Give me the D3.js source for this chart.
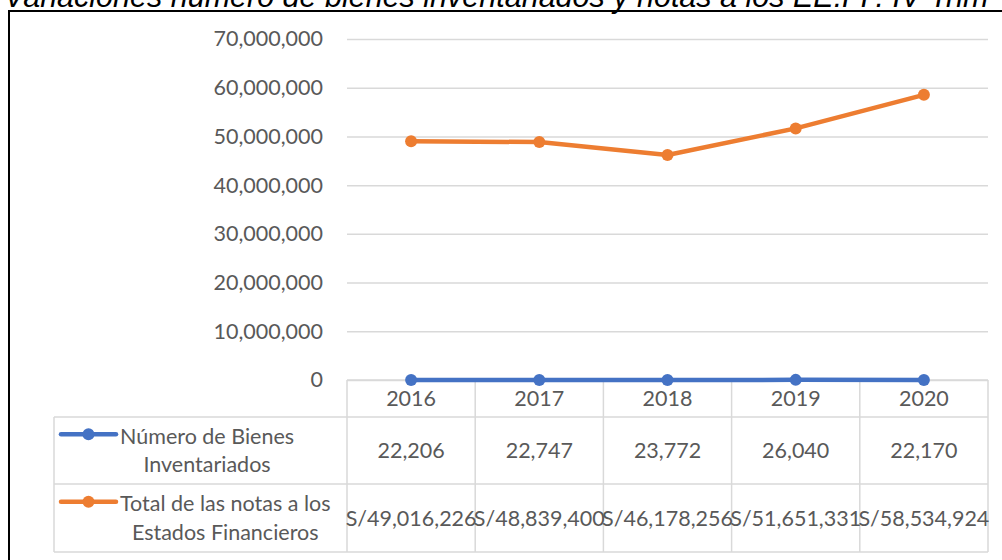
<!DOCTYPE html>
<html>
<head>
<meta charset="utf-8">
<script src="https://cdn.jsdelivr.net/npm/d3@7"></script>
<style>
  html, body { margin: 0; padding: 0; background: #fff; overflow: hidden; }
  svg { display: block; }
</style>
</head>
<body>
<svg id="chart" width="1002" height="560"></svg>
<script>
// Data
const TITLE = "Variaciones número de bienes inventariados y notas a los EE.FF. IV Trim";
const YEARS = ["2016", "2017", "2018", "2019", "2020"];
const SERIES_NAMES = ["Número de Bienes Inventariados", "Total de las notas a los Estados Financieros"];
const BIENES = [22206, 22747, 23772, 26040, 22170];
const NOTAS = [49016226, 48839400, 46178256, 51651331, 58534924];
const Y_TICKS = [0, 10000000, 20000000, 30000000, 40000000, 50000000, 60000000, 70000000];

const COLORS = ["#4472C4", "#ED7D31"];
const TEXT_COLOR = "#595959";
const GRID_COLOR = "#d9d9d9";
const FONT = "Lato, Roboto, sans-serif";
const FONT_SIZE = 21.5;

// Layout
const plot = { left: 347, right: 988, top: 39, bottom: 380 };
const table = { left: 54, header: 417, row1: 484, row2: 552, keyX0: 61, keyX1: 116, textX: 120 };

const svg = d3.select("#chart");

// Title (cut at top, as in the source image)
svg.append("text")
  .attr("x", 4)
  .attr("y", 7)
  .attr("font-family", "'Liberation Sans', Arial, sans-serif")
  .attr("font-style", "italic")
  .attr("font-size", "30.5px")
  .attr("fill", "#000")
  .text(TITLE);

// Outer black frame (runs off the right and bottom edges)
svg.append("rect")
  .attr("x", 9)
  .attr("y", 11)
  .attr("width", 1100)
  .attr("height", 600)
  .attr("fill", "none")
  .attr("stroke", "#000")
  .attr("stroke-width", 2);

// Scales
const x = d3.scaleBand()
  .domain(YEARS)
  .range([plot.left, plot.right])
  .padding(0);

const y = d3.scaleLinear()
  .domain([0, 70000000])
  .range([plot.bottom, plot.top]);

// Y axis with gridlines
svg.append("g")
  .attr("transform", `translate(${plot.left},0)`)
  .call(d3.axisLeft(y)
    .tickValues(Y_TICKS)
    .tickFormat(d3.format(","))
    .tickSize(-(plot.right - plot.left))
    .tickPadding(24))
  .call(g => g.select(".domain").remove())
  .call(g => g.selectAll(".tick line")
    .attr("stroke", GRID_COLOR)
    .attr("stroke-width", 1.5))
  .call(g => g.selectAll(".tick text")
    .attr("fill", TEXT_COLOR)
    .attr("font-family", FONT)
    .attr("font-size", FONT_SIZE + "px"));

// Data table grid
const tableG = svg.append("g");
const gridLine = (x1, y1, x2, y2) => tableG.append("line")
  .attr("x1", x1).attr("y1", y1).attr("x2", x2).attr("y2", y2)
  .attr("stroke", GRID_COLOR)
  .attr("stroke-width", 1.5);

gridLine(plot.left, plot.bottom, plot.right, plot.bottom);
gridLine(table.left, table.header, plot.right, table.header);
gridLine(table.left, table.row1, plot.right, table.row1);
gridLine(table.left, table.row2, plot.right, table.row2);
gridLine(table.left, table.header, table.left, table.row2);
YEARS.forEach(yr => gridLine(x(yr), plot.bottom, x(yr), table.row2));
gridLine(plot.right, plot.bottom, plot.right, table.row2);

// Year labels (category axis inside the table header)
tableG.selectAll(".year")
  .data(YEARS)
  .join("text")
  .attr("class", "year")
  .attr("x", d => x(d) + x.bandwidth() / 2)
  .attr("y", (plot.bottom + table.header) / 2)
  .attr("dy", "0.36em")
  .attr("text-anchor", "middle")
  .attr("fill", TEXT_COLOR)
  .attr("font-family", FONT)
  .attr("font-size", FONT_SIZE + "px")
  .text(d => d);

// Table rows
const fmtNum = d3.format(",");
const rows = [
  { name: SERIES_NAMES[0], values: BIENES, fmt: d => fmtNum(d), top: table.header, bottom: table.row1, color: COLORS[0] },
  { name: SERIES_NAMES[1], values: NOTAS, fmt: d => "S/" + fmtNum(d), top: table.row1, bottom: table.row2, color: COLORS[1] }
];

function wrapWords(text, maxWidth) {
  const probe = svg.append("text")
    .attr("font-family", FONT)
    .attr("font-size", FONT_SIZE + "px");
  const words = text.split(" ");
  const lines = [];
  let cur = "";
  words.forEach(w => {
    const test = cur ? cur + " " + w : w;
    probe.text(test);
    if (probe.node().getComputedTextLength() > maxWidth && cur) {
      lines.push(cur);
      cur = w;
    } else {
      cur = test;
    }
  });
  lines.push(cur);
  probe.text(null);
  const widths = lines.map(l => { probe.text(l); return probe.node().getComputedTextLength(); });
  probe.remove();
  return { lines, maxW: d3.max(widths) };
}

const lineGap = 28.5;
rows.forEach(r => {
  const mid = (r.top + r.bottom) / 2;
  const { lines, maxW } = wrapWords(r.name, 232);
  const firstY = mid - (lines.length - 1) * lineGap / 2;
  const cx = table.textX + maxW / 2;

  // legend key
  tableG.append("line")
    .attr("x1", table.keyX0).attr("x2", table.keyX1)
    .attr("y1", firstY - 2).attr("y2", firstY - 2)
    .attr("stroke", r.color)
    .attr("stroke-width", 4.5)
    .attr("stroke-linecap", "round");
  tableG.append("circle")
    .attr("cx", (table.keyX0 + table.keyX1) / 2)
    .attr("cy", firstY - 2)
    .attr("r", 6)
    .attr("fill", r.color);

  const label = tableG.append("text")
    .attr("text-anchor", "middle")
    .attr("fill", TEXT_COLOR)
    .attr("font-family", FONT)
    .attr("font-size", FONT_SIZE + "px");
  lines.forEach((l, i) => {
    label.append("tspan")
      .attr("x", cx)
      .attr("y", firstY + i * lineGap)
      .attr("dy", "0.36em")
      .text(l);
  });

  tableG.selectAll(null)
    .data(r.values)
    .join("text")
    .attr("x", (d, i) => x(YEARS[i]) + x.bandwidth() / 2)
    .attr("y", mid)
    .attr("dy", "0.36em")
    .attr("text-anchor", "middle")
    .attr("fill", TEXT_COLOR)
    .attr("font-family", FONT)
    .attr("font-size", FONT_SIZE + "px")
    .text(r.fmt);
});

// Lines and markers
const seriesData = [
  { values: BIENES, color: COLORS[0] },
  { values: NOTAS, color: COLORS[1] }
];
const line = d3.line()
  .x((d, i) => x(YEARS[i]) + x.bandwidth() / 2)
  .y(d => y(d));

seriesData.forEach(s => {
  svg.append("path")
    .datum(s.values)
    .attr("d", line)
    .attr("fill", "none")
    .attr("stroke", s.color)
    .attr("stroke-width", 4.5)
    .attr("stroke-linejoin", "round")
    .attr("stroke-linecap", "round");

  svg.selectAll(null)
    .data(s.values)
    .join("circle")
    .attr("cx", (d, i) => x(YEARS[i]) + x.bandwidth() / 2)
    .attr("cy", d => y(d))
    .attr("r", 6)
    .attr("fill", s.color);
});
</script>
</body>
</html>
